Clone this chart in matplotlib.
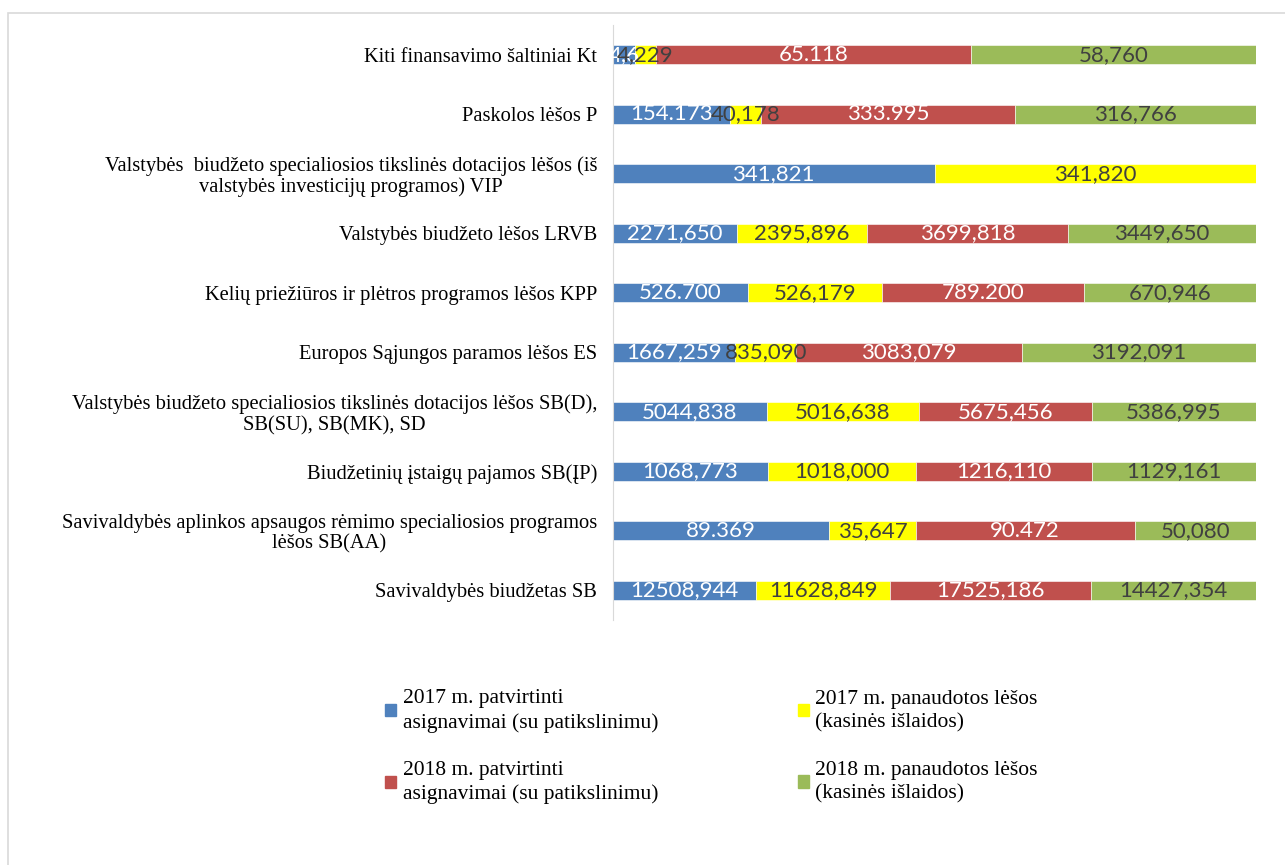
import numpy as np
import matplotlib
matplotlib.use('Agg')
import matplotlib.pyplot as plt
from matplotlib.patches import Rectangle, Patch

# kategorijos (nuo viršaus į apačią)
categories = [
    'Kiti finansavimo šaltiniai Kt',
    'Paskolos lėšos P',
    'Valstybės  biudžeto specialiosios tikslinės dotacijos lėšos (iš\nvalstybės investicijų programos) VIP',
    'Valstybės biudžeto lėšos LRVB',
    'Kelių priežiūros ir plėtros programos lėšos KPP',
    'Europos Sąjungos paramos lėšos ES',
    'Valstybės biudžeto specialiosios tikslinės dotacijos lėšos SB(D),\nSB(SU), SB(MK), SD',
    'Biudžetinių įstaigų pajamos SB(ĮP)',
    'Savivaldybės aplinkos apsaugos rėmimo specialiosios programos\nlėšos SB(AA)',
    'Savivaldybės biudžetas SB',
]

series_names = [
    '2017 m. patvirtinti\nasignavimai (su patikslinimu)',
    '2017 m. panaudotos lėšos\n(kasinės išlaidos)',
    '2018 m. patvirtinti\nasignavimai (su patikslinimu)',
    '2018 m. panaudotos lėšos\n(kasinės išlaidos)',
]

plan_2017 = [4.6, 154.173, 341.821, 2271.650, 526.700, 1667.259, 5044.838, 1068.773, 89.369, 12508.944]
used_2017 = [4.229, 40.178, 341.820, 2395.896, 526.179, 835.090, 5016.638, 1018.000, 35.647, 11628.849]
plan_2018 = [65.118, 333.995, 0, 3699.818, 789.200, 3083.079, 5675.456, 1216.110, 90.472, 17525.186]
used_2018 = [58.760, 316.766, 0, 3449.650, 670.946, 3192.091, 5386.995, 1129.161, 50.080, 14427.354]

lbl_plan_2017 = ['4,6', '154.173', '341,821', '2271,650', '526.700', '1667,259', '5044,838', '1068,773', '89.369', '12508,944']
lbl_used_2017 = ['4,229', '40,178', '341,820', '2395,896', '526,179', '835,090', '5016,638', '1018,000', '35,647', '11628,849']
lbl_plan_2018 = ['65.118', '333.995', '', '3699,818', '789.200', '3083,079', '5675,456', '1216,110', '90.472', '17525,186']
lbl_used_2018 = ['58,760', '316,766', '', '3449,650', '670,946', '3192,091', '5386,995', '1129,161', '50,080', '14427,354']

colors = ['#4F81BD', '#FFFF00', '#C0504D', '#9BBB59']
text_colors = ['white', '#404040', 'white', '#404040']

data = np.array([plan_2017, used_2017, plan_2018, used_2018])
shares = data / data.sum(axis=0) * 100
labels = [lbl_plan_2017, lbl_used_2017, lbl_plan_2018, lbl_used_2018]

fig = plt.figure(figsize=(12.85, 8.65), dpi=100)
# rėmelis: tik viršutinė ir kairė linija matoma
fig.patches.append(Rectangle((8 / 1285, -0.01), 1.0, 1 - 13 / 865 + 0.01,
                             transform=fig.transFigure, fill=False,
                             edgecolor='#D9D9D9', linewidth=1.2))
ax = fig.add_axes([613 / 1285, 1 - 620 / 865, 643 / 1285, 595 / 865])

y = np.arange(len(categories))
left = np.zeros(len(categories))
for i in range(4):
    bars = ax.barh(y, shares[i], left=left, height=0.32, color=colors[i],
                   edgecolor='white', linewidth=0.4, label=series_names[i])
    ax.bar_label(bars, labels=labels[i], label_type='center', color=text_colors[i],
                 fontsize=16, family=['Lato', 'DejaVu Sans'])
    left += shares[i]

ax.set_xlim(0, 100)
ax.set_ylim(len(categories) - 0.5, -0.5)
ax.set_yticks(y)
ax.set_yticklabels(categories, family='Liberation Serif', fontsize=14.8,
                   multialignment='center', linespacing=1.1)
ax.tick_params(axis='y', length=0, pad=11.5)
ax.set_xticks([])
for s in ['top', 'right', 'bottom']:
    ax.spines[s].set_visible(False)
ax.spines['left'].set_color('#D9D9D9')

handles = [Patch(color=colors[k]) for k in (0, 2, 1, 3)]
names = [series_names[k] for k in (0, 2, 1, 3)]
leg = fig.legend(handles, names, loc='upper left', bbox_to_anchor=(366 / 1285, 1 - 670 / 865),
                 ncol=2, frameon=False, handlelength=0.5, handleheight=0.5, handletextpad=0.3,
                 columnspacing=6.5, labelspacing=1.33,
                 prop={'family': 'Liberation Serif', 'size': 15.5})
for t in leg.get_texts():
    t.set_linespacing(1.3)

fig.savefig('out.png', dpi=100)
